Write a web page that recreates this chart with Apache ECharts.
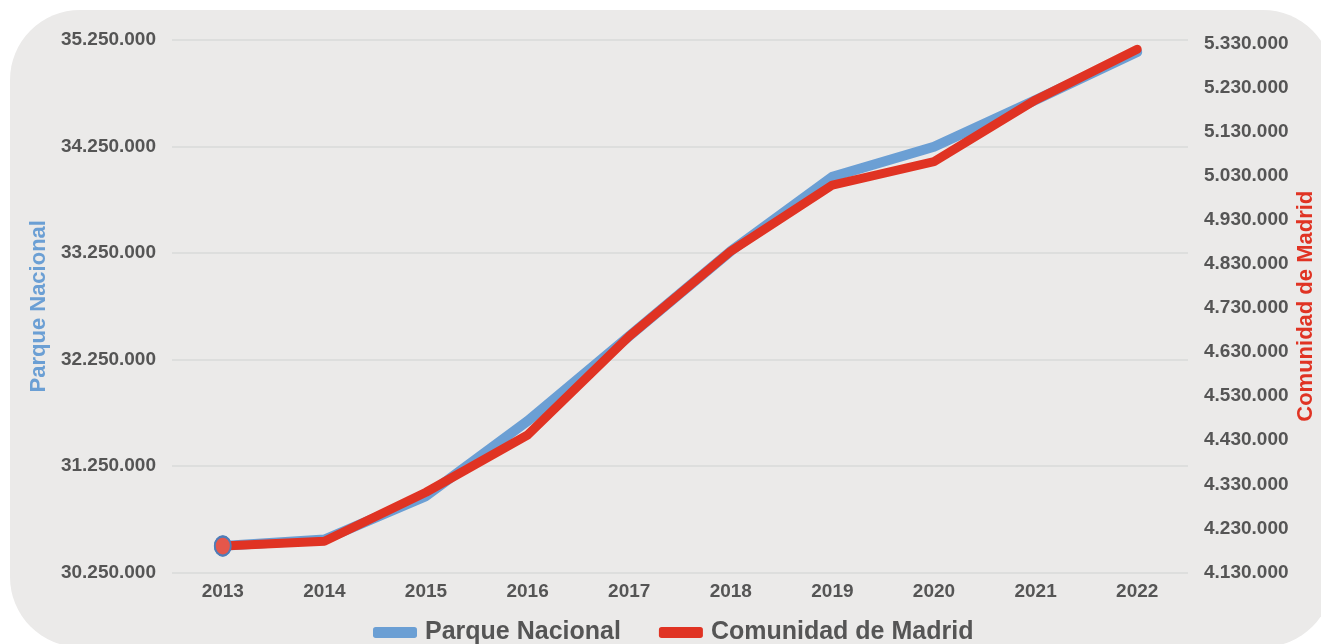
<!DOCTYPE html>
<html>
<head>
<meta charset="utf-8">
<script src="https://cdn.jsdelivr.net/npm/echarts@6/dist/echarts.min.js"></script>
<style>
html,body{margin:0;padding:0;background:#ffffff;}
#chart{width:1321px;height:644px;}
</style>
</head>
<body>
<div id="chart"></div>
<script>
const years = ['2013','2014','2015','2016','2017','2018','2019','2020','2021','2022'];
const parqueNacional = [30500000, 30560000, 30968000, 31672000, 32470000, 33268000, 33966000, 34248000, 34686000, 35137000];
const comunidadMadrid = [4190000, 4201000, 4312000, 4442000, 4666000, 4859000, 5009000, 5062000, 5202000, 5317000];
const leftAxis = {min: 30250000, max: 35250000, interval: 1000000};
const rightAxis = {min: 4130000, max: 5338000, interval: 100000};

const fmt = v => String(Math.round(v)).replace(/\B(?=(\d{3})+(?!\d))/g, '.');
const FONT = '"Liberation Sans", Arial, Helvetica, sans-serif';
const chart = echarts.init(document.getElementById('chart'), null, {renderer: 'canvas'});

const firstPoint = (arr) => arr.map((v, i) => i === 0 ? {
  value: v, symbol: 'circle', symbolSize: [16, 19],
  itemStyle: {color: '#e4574b', borderColor: '#4f7db8', borderWidth: 2}
} : {value: v, symbol: 'none'});

chart.setOption({
  backgroundColor: 'transparent',
  animation: false,
  graphic: [{
    type: 'rect', z: -10, silent: true,
    shape: {x: 10, y: 10, width: 1323, height: 637, r: 70},
    style: {fill: '#ebeae9'}
  }],
  grid: {left: 172, right: 133, top: 40, bottom: 71.5, containLabel: false, outerBoundsMode: 'none'},
  legend: {
    top: 615, left: 368, itemGap: 38,
    itemWidth: 44, itemHeight: 11, icon: 'roundRect',
    textStyle: {fontFamily: FONT, fontSize: 25, fontWeight: 'bold', color: '#555555', padding: [2, 0, 0, 3]},
    data: [
      {name: 'Parque Nacional', itemStyle: {color: '#6b9fd4'}},
      {name: 'Comunidad de Madrid', itemStyle: {color: '#e03323'}}
    ]
  },
  xAxis: {
    type: 'category', data: years, boundaryGap: true,
    axisLine: {show: false}, axisTick: {show: false},
    axisLabel: {fontFamily: FONT, fontSize: 19, fontWeight: 'bold', color: '#555555', margin: 10}
  },
  yAxis: [{
    type: 'value', position: 'left', min: leftAxis.min, max: leftAxis.max, interval: leftAxis.interval,
    name: 'Parque Nacional', nameLocation: 'middle', nameGap: 122, nameRotate: 90,
    nameTextStyle: {fontFamily: FONT, fontSize: 22, fontWeight: 'bold', color: '#6b9fd4'},
    axisLine: {show: false}, axisTick: {show: false},
    axisLabel: {fontFamily: FONT, fontSize: 19, fontWeight: 'bold', color: '#555555', margin: 16, formatter: fmt},
    splitLine: {show: true, lineStyle: {color: '#d8dad8', width: 1.5}}
  }, {
    type: 'value', position: 'right', min: rightAxis.min, max: rightAxis.max, interval: rightAxis.interval,
    name: 'Comunidad de Madrid', nameLocation: 'middle', nameGap: 107, nameRotate: 90, nameMoveOverlap: false,
    nameTextStyle: {fontFamily: FONT, fontSize: 22, fontWeight: 'bold', color: '#e03323'},
    axisLine: {show: false}, axisTick: {show: false},
    axisLabel: {fontFamily: FONT, fontSize: 19, fontWeight: 'bold', color: '#555555', margin: 16,
      showMaxLabel: false,
      formatter: v => (Math.round(v - rightAxis.min) % rightAxis.interval === 0) ? fmt(v) : ''},
    splitLine: {show: false}
  }],
  series: [{
    name: 'Parque Nacional', type: 'line', yAxisIndex: 0,
    data: firstPoint(parqueNacional), showSymbol: true,
    lineStyle: {color: '#6b9fd4', width: 10, cap: 'round', join: 'round'},
    itemStyle: {color: '#6b9fd4'}, z: 2
  }, {
    name: 'Comunidad de Madrid', type: 'line', yAxisIndex: 1,
    data: firstPoint(comunidadMadrid), showSymbol: true,
    lineStyle: {color: '#e03323', width: 9, cap: 'round', join: 'round'},
    itemStyle: {color: '#e03323'}, z: 3
  }]
});
</script>
</body>
</html>
